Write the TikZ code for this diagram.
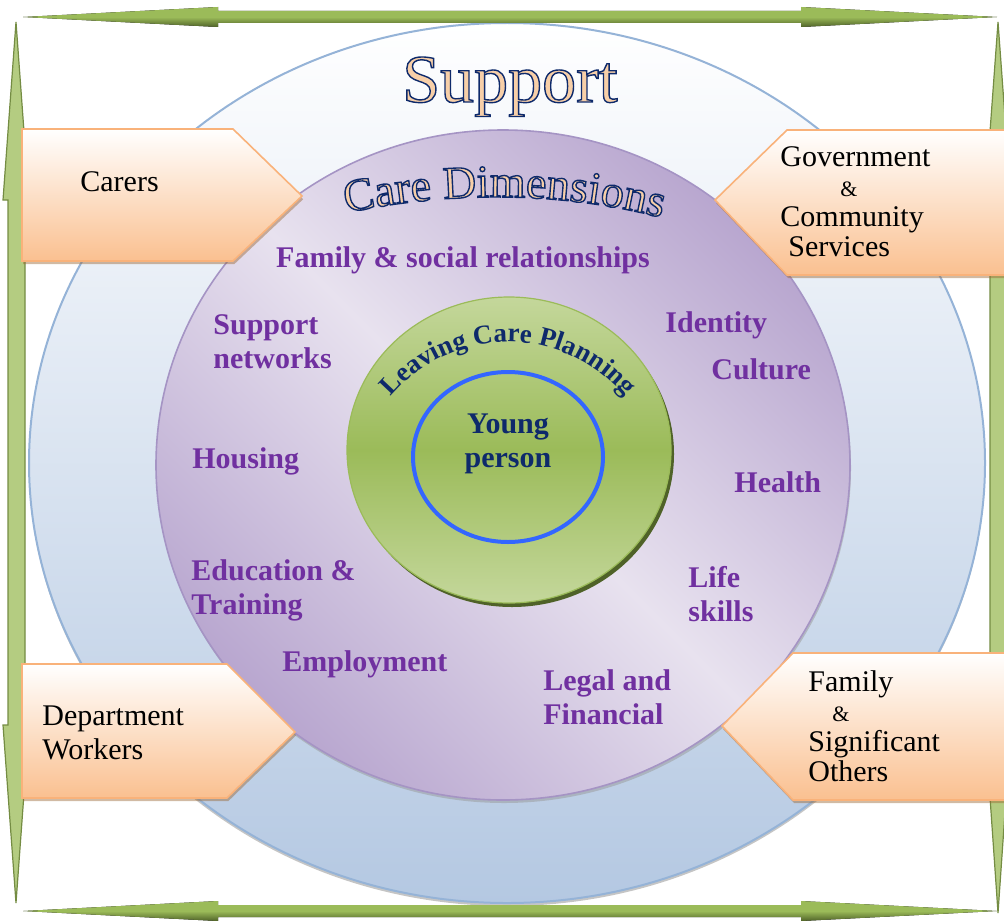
\documentclass[tikz,border=0pt]{standalone}
\usepackage{fontspec}
\setmainfont{Liberation Serif}
\usetikzlibrary{shapes.geometric,shadows,decorations.text}

\definecolor{skyline}{HTML}{95B3D7}
\definecolor{skyfill}{HTML}{B4C8E2}
\definecolor{lilac}{HTML}{B8A6CF}
\definecolor{lilacl}{HTML}{E8E2EF}
\definecolor{lilacline}{HTML}{A594C4}
\definecolor{leaf}{HTML}{9BBB59}
\definecolor{leafl}{HTML}{C4D79B}
\definecolor{leafd}{HTML}{4F6228}
\definecolor{ringblue}{HTML}{3366FF}
\definecolor{peach}{HTML}{FAC090}
\definecolor{peachline}{HTML}{F9B27A}
\definecolor{peachtxt}{HTML}{F7CFA8}
\definecolor{navyc}{HTML}{0E2A6B}
\definecolor{plum}{HTML}{7030A0}

\newcommand\outl[1]{\special{pdf:code 2 Tr 0.7 w 0.055 0.165 0.42 RG}#1\special{pdf:code 0 Tr}}

\tikzset{
	every disc/.style={ellipse, inner sep=0pt},
	disc support/.style={draw=skyline, line width=1pt, top color=white, bottom color=skyfill,
		drop shadow={shadow xshift=0pt, shadow yshift=-1.5pt, fill=black!45, opacity=.5}},
	disc care/.style={draw=lilacline, line width=0.8pt, top color=lilac, bottom color=lilac, middle color=lilacl,
		shading angle=-45, drop shadow={shadow xshift=0.5pt, shadow yshift=-1.5pt, fill=black!40, opacity=.5}},
	disc plan/.style={draw=leaf, line width=0.6pt, top color=leafl, bottom color=leafl, middle color=leaf,
		drop shadow={shadow xshift=1.5pt, shadow yshift=-2pt, fill=leafd, opacity=1}},
	disc young/.style={draw=ringblue, line width=2pt},
	arrow h/.style={top color=leaf, bottom color=leafd, middle color=leaf},
	arrow v/.style={fill=leafl!60!leaf, draw=leaf!75!black, line width=0.6pt},
	pentabox/.style={draw=peachline, line width=0.8pt, top color=white, bottom color=peach,
		drop shadow={shadow xshift=0.6pt, shadow yshift=-1.6pt, fill=brown!80!black, opacity=.45}},
	boxtext/.style={inner sep=0pt, anchor=west, align=left, text=black},
	dimtext/.style={inner sep=0pt, font=\fontsize{15}{17}\selectfont\bfseries, text=plum, align=left}
}

\begin{document}
\begin{tikzpicture}[x=0.5pt, y=-0.5pt, font=\fontsize{15}{17}\selectfont]
	\useasboundingbox (0,0) rectangle (1004,920);

	\node [every disc/.try, disc support, minimum width=478pt, minimum height=440pt] (support) at (507,463) {};
	\node [every disc/.try, disc care, minimum width=347pt, minimum height=335pt] (care) at (503,465) {};
	\node [every disc/.try, disc plan, minimum width=162pt, minimum height=153pt] (plan) at (509,450) {};
	\node [every disc/.try, disc young, minimum width=95pt, minimum height=85pt] (young) at (508,457) {};

	\fill [arrow h] (23,17) -- (218,7) -- (218,11) -- (801,11) -- (801,7) -- (997,17)
		-- (801,27) -- (801,23) -- (218,23) -- (218,27) -- cycle;
	\fill [arrow h] (23,911) -- (218,901) -- (218,905) -- (801,905) -- (801,901) -- (997,911)
		-- (801,921) -- (801,917) -- (218,917) -- (218,921) -- cycle;
	\path [arrow v] (16,22) -- (3,200) -- (8,200) -- (8,725) -- (3,725) -- (16,903)
		-- (29,725) -- (25,725) -- (25,200) -- (29,200) -- cycle;
	\path [arrow v] (998,22) -- (985,200) -- (990,200) -- (990,725) -- (985,725) -- (998,913)
		-- (1011,725) -- (1006,725) -- (1006,200) -- (1011,200) -- cycle;

	\draw [pentabox] (22,129) -- (233,129) -- (302,196) -- (233,261) -- (22,261) -- cycle;
	\draw [pentabox] (1010,130) -- (787,130) -- (715,200) -- (787,275) -- (1010,275) -- cycle;
	\draw [pentabox] (22,664) -- (227,664) -- (295,732) -- (227,798) -- (22,798) -- cycle;
	\draw [pentabox] (1010,653) -- (793,653) -- (722,726) -- (793,800) -- (1010,800) -- cycle;

	\node [boxtext] (carers) at (80,182) {Carers};
	\node [boxtext, font=\fontsize{15}{15}\selectfont] (government) at (780,202)
		{Government\\\hspace*{30pt}{\fontsize{11}{15}\selectfont\&}\\Community\\\hspace*{4pt}Services};
	\node [boxtext] (department) at (42,733) {Department\\Workers};
	\node [boxtext, font=\fontsize{15}{15}\selectfont] (family) at (808,726)
		{Family\\\hspace*{12pt}{\fontsize{11}{15}\selectfont\&}\\Significant\\Others};

	\node [inner sep=0pt, anchor=base, font=\fontsize{34}{34}\selectfont, text=peachtxt] (title) at (510,102)
		{\outl{Support}};

	\coordinate (cd-a) at (345,213);
	\coordinate (cd-b) at (450,191);
	\coordinate (cd-c) at (560,191);
	\coordinate (cd-d) at (663,218);
	\path [decorate, decoration={text effects along path, text={Care Dimensions}, text align=center,
		text effects/.cd, text along path, characters={font=\fontsize{23}{23}\selectfont, text=peachtxt},
		character command=\outl}] (cd-a) .. controls (cd-b) and (cd-c) .. (cd-d);

	\path [decorate, decoration={text along path, text align=center, text color=navyc,
		text={|\fontsize{13.5}{13.5}\selectfont\bfseries|Leaving Care Planning}}]
		(508,495) ++(215:153) arc (215:325:153);

	\node [inner sep=0pt, align=center, font=\fontsize{15}{17}\selectfont\bfseries, text=navyc] (person) at (508,444) {Young\\person};

	\node [dimtext] (dim-family) at (463,260) {Family \& social relationships};
	\foreach \n/\x/\y/\t in {networks/213/342/{Support\\networks}, identity/665/325/Identity,
		culture/711/369/Culture, housing/192/461/Housing, health/734/482/Health,
		education/191/590/{Education \&\\Training}, skills/688/594/{Life\\skills},
		employment/282/664/Employment, legal/543/697/{Legal and\\Financial}}
		\node [dimtext, anchor=west] (dim-\n) at (\x,\y) {\t};

\end{tikzpicture}
\end{document}
